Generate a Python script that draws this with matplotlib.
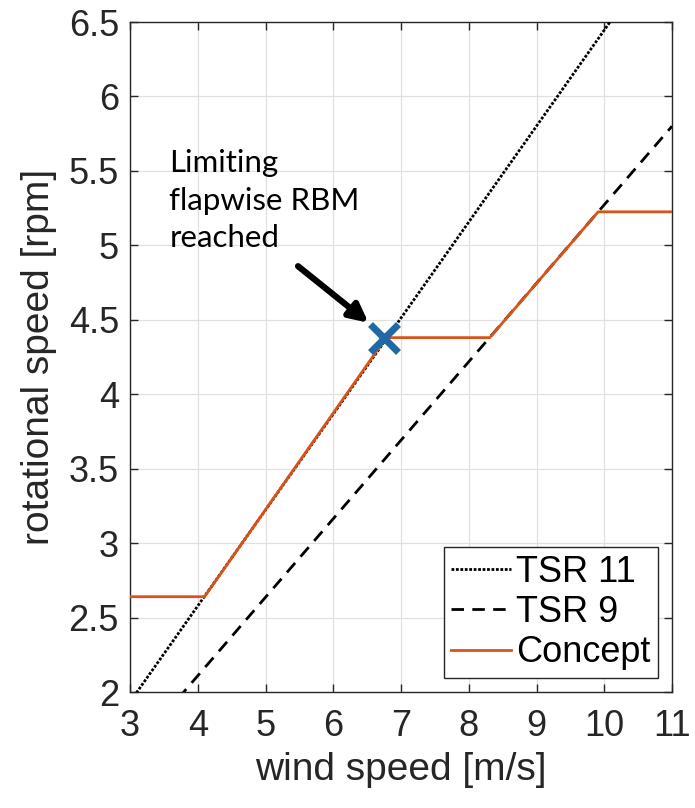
import matplotlib
matplotlib.use("Agg")
import matplotlib.pyplot as plt

# Data
tsr11_wind = [0.0, 11.0]
tsr11_rpm = [0.0, 7.09]
tsr9_wind = [0.0, 11.0]
tsr9_rpm = [0.0, 5.80]
concept_wind = [3.0, 4.1, 6.78, 8.31, 9.91, 11.0]
concept_rpm = [2.64, 2.64, 4.38, 4.38, 5.225, 5.225]
limit_wind = [6.75]
limit_rpm = [4.38]
xticks = [3, 4, 5, 6, 7, 8, 9, 10, 11]
yticks = [2, 2.5, 3, 3.5, 4, 4.5, 5, 5.5, 6, 6.5]
ytick_labels = ["2", "2.5", "3", "3.5", "4", "4.5", "5", "5.5", "6", "6.5"]

plt.rcParams['font.family'] = ['Liberation Sans', 'DejaVu Sans']

fig = plt.figure(figsize=(6.95, 8.08), dpi=100)
ax = fig.add_axes([130/695, 1 - 692/808, 542/695, 670/808])

orange = '#D95319'
blue = '#1F6AA5'

ax.plot(tsr11_wind, tsr11_rpm, color='black', linestyle=(0, (1, 0.6)), lw=2.0, label='TSR 11', zorder=3)
ax.plot(tsr9_wind, tsr9_rpm, color='black', linestyle=(0, (4.5, 3)), lw=2.0, label='TSR 9', zorder=3)
ax.plot(concept_wind, concept_rpm, color=orange, lw=2.0, label='Concept', zorder=4)
ax.plot(limit_wind, limit_rpm, linestyle='none', marker='x', color=blue, ms=20, mew=5, zorder=5)

ax.set_xlim(3, 11)
ax.set_ylim(2, 6.5)
ax.set_xticks(xticks)
ax.set_yticks(yticks)
ax.set_yticklabels(ytick_labels)
ax.tick_params(axis='both', which='both', direction='in', top=True, right=True,
               labelsize=26, colors='#262626', length=6, width=1)
ax.tick_params(axis='x', pad=12)
ax.tick_params(axis='y', pad=8)
ax.grid(True, color='#e0e0e0', lw=0.9)
ax.set_axisbelow(True)
for s in ax.spines.values():
    s.set_color('#262626')
    s.set_linewidth(1.0)

ax.set_xlabel('wind speed [m/s]', fontsize=28, color='#262626', labelpad=6)
ax.set_ylabel('rotational speed [rpm]', fontsize=28, color='#262626', labelpad=8)

leg = ax.legend(loc='lower right', fontsize=26, frameon=True, fancybox=False,
                handlelength=1.65, handletextpad=0.15, borderpad=0.2, labelspacing=0.15,
                borderaxespad=0.4, edgecolor='#262626', framealpha=1)
leg.get_frame().set_linewidth(1.0)

ax.text(3.58, 5.30, 'Limiting\nflapwise RBM\nreached',
        fontsize=22.5, family=['Lato', 'DejaVu Sans'], ha='left', va='center',
        linespacing=1.4, color='black')
ax.annotate('', xy=(6.52, 4.48), xytext=(5.48, 4.86),
            arrowprops=dict(arrowstyle='-|>,head_length=1.1,head_width=0.55', lw=4.5, color='black',
                            shrinkA=0, shrinkB=0))

fig.savefig('out.png', dpi=100)
